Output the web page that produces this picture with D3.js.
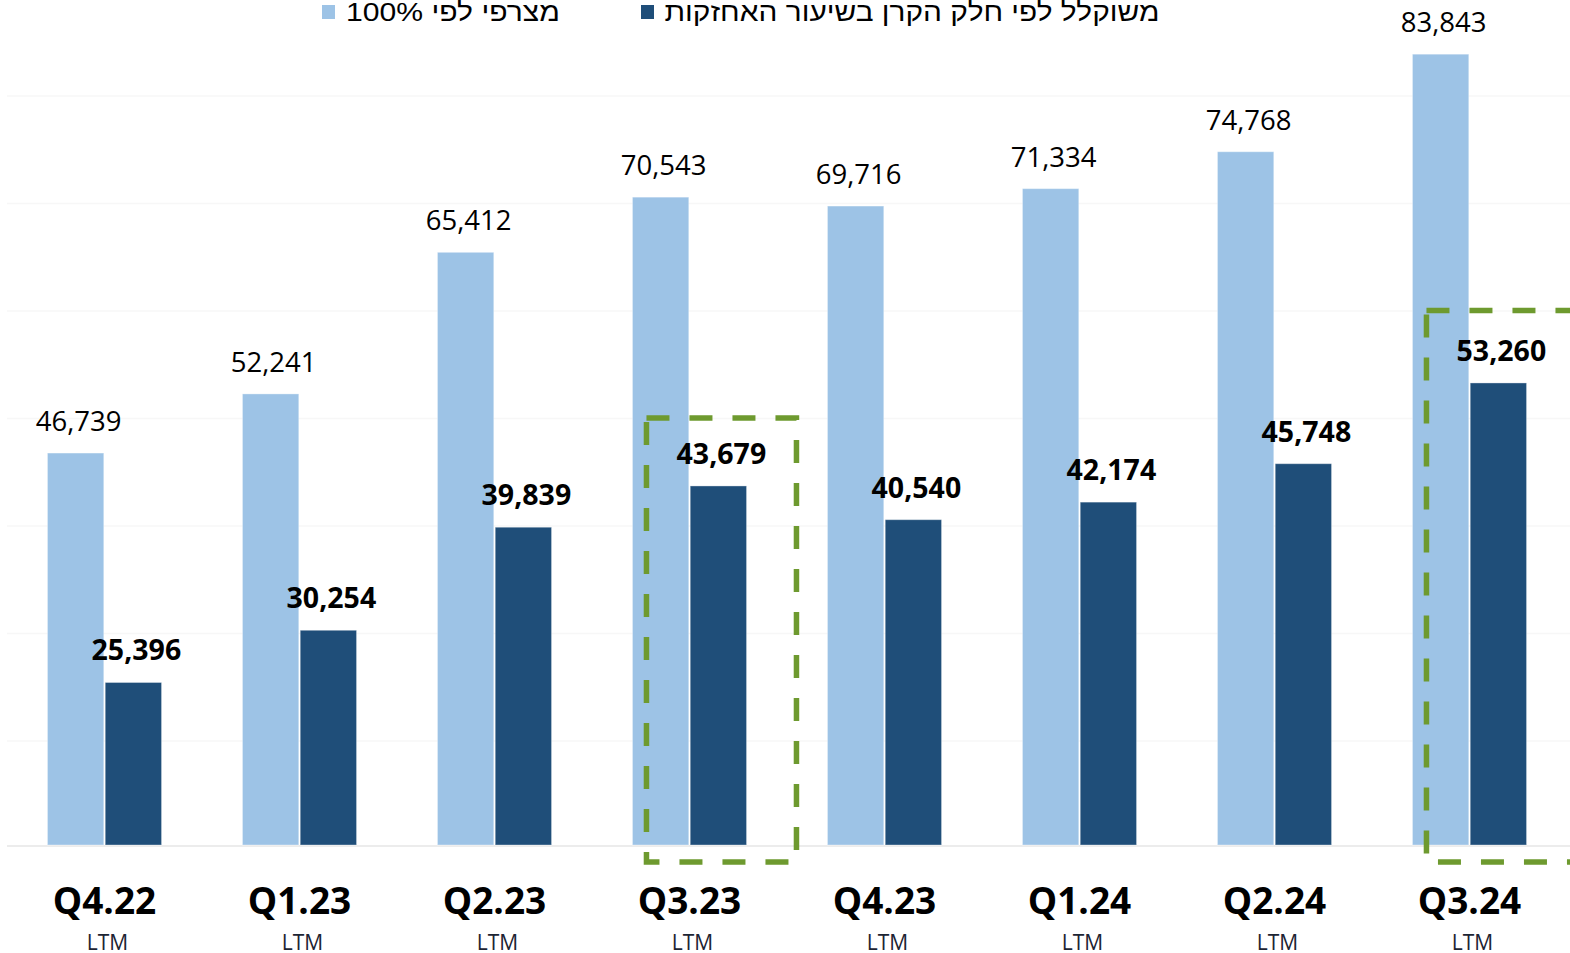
<!DOCTYPE html>
<meta charset="utf-8">
<style>
body { margin: 0; background: #fff; }
text.val { font-family: "Open Sans", sans-serif; font-size: 27.5px; fill: #000; }
text.val.bold { font-weight: bold; font-size: 28.5px; }
text.cat { font-family: "Open Sans", sans-serif; font-weight: bold; font-size: 37px; fill: #000; }
text.ltm { font-family: "Open Sans", sans-serif; font-size: 21px; fill: #1c2433; }
text.legend { font-family: "Liberation Sans", Arial, sans-serif; font-size: 26px; fill: #000; direction: rtl; }
</style>
<svg width="1570" height="953"></svg>
<script src="https://cdnjs.cloudflare.com/ajax/libs/d3/7.8.5/d3.min.js"></script>
<script>
// quarters (LTM)
const categories = ["Q4.22", "Q1.23", "Q2.23", "Q3.23", "Q4.23", "Q1.24", "Q2.24", "Q3.24"]
const subLabels = ["LTM", "LTM", "LTM", "LTM", "LTM", "LTM", "LTM", "LTM"]

// 100% consolidated
const consolidated = [46739, 52241, 65412, 70543, 69716, 71334, 74768, 83843]
// weighted by fund's holding share
const weighted = [25396, 30254, 39839, 43679, 40540, 42174, 45748, 53260]

const seriesNames = ["מצרפי לפי 100%", "משוקלל לפי חלק הקרן בשיעור האחזקות"]
const seriesColors = ["#9dc3e6", "#1f4e79"]

// highlighted quarters, box top at this value
const highlights = [
  {cat: "Q3.23", top: 50000},
  {cat: "Q3.24", top: 60000}
]
const gridTicks = [20000, 30000, 40000, 50000, 60000, 70000, 80000]

const svg = d3.select("svg"),
    width = +svg.attr("width"),
    height = +svg.attr("height"),
    baseY = 845

const x0 = d3.scaleBand()
    .domain(categories)
    .range([7, 1567])
    .paddingInner(0.415)
    .paddingOuter(0.2075)

const x1 = d3.scaleBand()
    .domain([0, 1])
    .range([0, x0.bandwidth()])
    .paddingInner(0.025)

const y = d3.scaleLinear()
    .domain([10000, 90000])
    .range([848, -12])

const fmt = d3.format(",")

const data = categories.map((c, i) => ({cat: c, sub: subLabels[i], vals: [consolidated[i], weighted[i]]}))

// faint gridlines
const grid = svg.append("g")
    .attr("transform", "translate(7,0)")
    .call(d3.axisLeft(y).tickValues(gridTicks).tickSize(-(width - 7)).tickFormat(""))
grid.select(".domain").remove()
grid.selectAll("line").attr("stroke", "#f7f7f7").attr("stroke-width", 1.5)

// baseline
svg.append("line")
    .attr("x1", 7).attr("x2", width)
    .attr("y1", baseY + 1).attr("y2", baseY + 1)
    .attr("stroke", "#ececec")
    .attr("stroke-width", 2)

const groups = svg.append("g").selectAll("g")
  .data(data)
  .join("g")
    .attr("transform", d => `translate(${x0(d.cat)},0)`)

groups.selectAll("rect")
  .data(d => d.vals.map((v, k) => ({v, k})))
  .join("rect")
    .attr("x", d => x1(d.k))
    .attr("y", d => y(d.v))
    .attr("width", x1.bandwidth())
    .attr("height", d => baseY - y(d.v))
    .attr("fill", d => seriesColors[d.k])
    .attr("stroke", "rgba(255,255,255,0.35)")
    .attr("stroke-width", 1)

groups.selectAll("text.val")
  .data(d => d.vals.map((v, k) => ({v, k})))
  .join("text")
    .attr("class", d => d.k ? "val bold" : "val")
    .attr("x", d => x1(d.k) + x1.bandwidth() / 2 + 3)
    .attr("y", d => y(d.v) - 22)
    .attr("text-anchor", "middle")
    .text(d => fmt(d.v))

// category labels
groups.append("text")
    .attr("class", "cat")
    .attr("x", x0.bandwidth() / 2)
    .attr("y", 914)
    .attr("text-anchor", "middle")
    .text(d => d.cat)

groups.append("text")
    .attr("class", "ltm")
    .attr("x", x0.bandwidth() / 2 + 3)
    .attr("y", 950)
    .attr("text-anchor", "middle")
    .text(d => d.sub)

// dashed highlight boxes
svg.append("g").selectAll("rect")
  .data(highlights)
  .join("rect")
    .attr("x", d => x0(d.cat) + 14)
    .attr("y", d => y(d.top))
    .attr("width", 150)
    .attr("height", d => 862 - y(d.top))
    .attr("fill", "none")
    .attr("stroke", "#6e9a2f")
    .attr("stroke-width", 5.5)
    .attr("stroke-dasharray", "23 20")

// legend
const legendItems = [
  {name: seriesNames[0], color: seriesColors[0], sx: 322, cx: 453, w: 214},
  {name: seriesNames[1], color: seriesColors[1], sx: 641, cx: 912, w: 495}
]
const lg = svg.append("g")
lg.selectAll("rect")
  .data(legendItems)
  .join("rect")
    .attr("x", d => d.sx)
    .attr("y", 5)
    .attr("width", 13)
    .attr("height", 14)
    .attr("fill", d => d.color)
lg.selectAll("text")
  .data(legendItems)
  .join("text")
    .attr("class", "legend")
    .attr("x", d => d.cx)
    .attr("y", 21)
    .attr("text-anchor", "middle")
    .attr("textLength", d => d.w)
    .attr("lengthAdjust", "spacingAndGlyphs")
    .text(d => d.name)
</script>
